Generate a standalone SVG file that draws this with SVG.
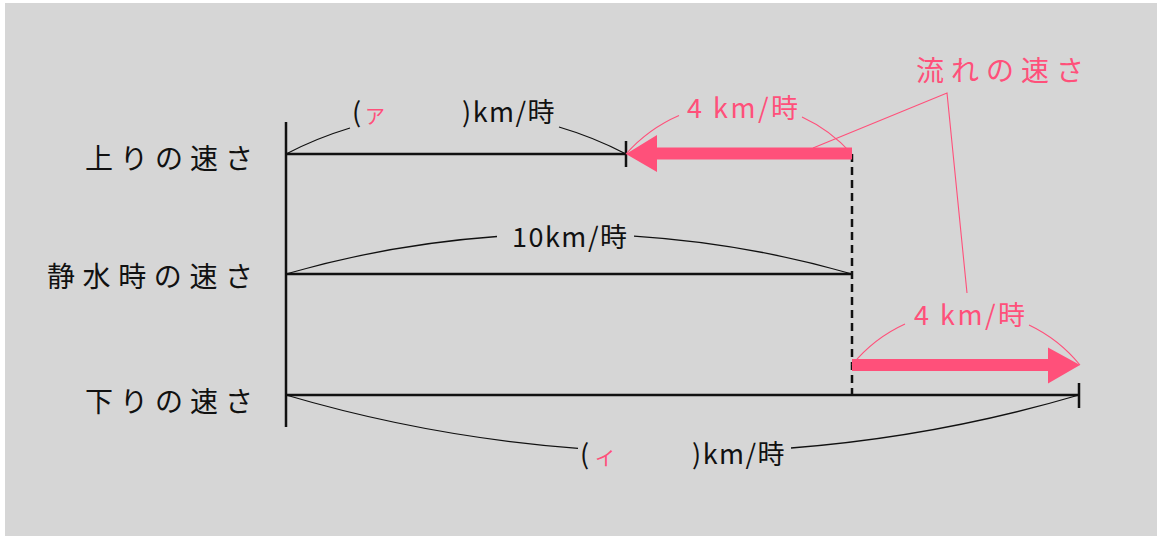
<svg xmlns="http://www.w3.org/2000/svg" width="1157" height="536" viewBox="0 0 1157 536">
  <style>
    .jp { font-family: "Noto Sans CJK JP", "Noto Sans", sans-serif; }
    .lbl { font-size: 28px; fill: #111; letter-spacing: 7px; }
    .val { font-size: 27px; fill: #111; letter-spacing: 1.5px; }
    .red { fill: #ff507a; }
    .ans { font-size: 20px; fill: #ff507a; }
    .axis { stroke: #111; stroke-width: 2.5; fill: none; }
    .arc { stroke: #111; stroke-width: 1.3; fill: none; }
    .rarc { stroke: #ff507a; stroke-width: 1.1; fill: none; }
    .dash { stroke: #111; stroke-width: 2.5; stroke-dasharray: 8 5; fill: none; }
  </style>
  <rect x="5" y="3" width="1152" height="533" fill="#d6d6d6"/>

  <g id="row-labels" class="jp">
    <text class="lbl" x="85" y="169">上りの速さ</text>
    <text class="lbl" x="47" y="287" style="letter-spacing:7.6px">静水時の速さ</text>
    <text class="lbl" x="85" y="412">下りの速さ</text>
  </g>

  <g id="connectors">
    <line class="axis" x1="286" y1="122" x2="286" y2="427"/>
    <line class="axis" x1="286" y1="154" x2="626" y2="154"/>
    <line class="axis" x1="626" y1="141" x2="626" y2="167"/>
    <line class="axis" x1="286" y1="274" x2="852" y2="274"/>
    <line class="axis" x1="286" y1="395" x2="1079" y2="395"/>
    <line class="axis" x1="1079" y1="383" x2="1079" y2="408"/>
    <line class="dash" x1="852" y1="154" x2="852" y2="395"/>

    <path class="arc" d="M286,154 A368.3,368.3 0 0 1 350,128"/>
    <path class="arc" d="M559,127 A368.3,368.3 0 0 1 626,154"/>
    <path class="arc" d="M286,274 A1021,1021 0 0 1 497,236.5"/>
    <path class="arc" d="M634,236.1 A1021,1021 0 0 1 852,274"/>
    <path class="arc" d="M286,395 A1403.8,1403.8 0 0 0 578,448.3"/>
    <path class="arc" d="M791,448 A1403.8,1403.8 0 0 0 1079,395"/>

    <path class="rarc" d="M626,154 A150.9,150.9 0 0 1 679,115.5"/>
    <path class="rarc" d="M802,116.9 A150.9,150.9 0 0 1 852,154"/>
    <path class="rarc" d="M852,365 A146.9,146.9 0 0 1 905,324"/>
    <path class="rarc" d="M1029,324.9 A146.9,146.9 0 0 1 1080,365"/>

    <polyline class="rarc" points="813,148 947,93 967,293"/>

    <polygon id="arrow-up" class="red" points="626,154 657,135 657,147.5 852,147.5 852,159.5 657,159.5 657,172"/>
    <polygon id="arrow-down" class="red" points="1080,365 1048,347.5 1048,359 852,359 852,371 1048,371 1048,383.5"/>
  </g>

  <g id="label-up" class="jp">
    <text class="val" x="352" y="122">(</text>
    <text class="ans" x="365" y="124">ア</text>
    <text class="val" x="462" y="122">)km/時</text>
  </g>
  <g id="label-still" class="jp">
    <text class="val" x="512" y="247">10km/時</text>
  </g>
  <g id="label-down" class="jp">
    <text class="val" x="580" y="464">(</text>
    <text class="ans" x="595" y="466">イ</text>
    <text class="val" x="692" y="464">)km/時</text>
  </g>
  <g id="label-current-up" class="jp">
    <text class="val red" x="687" y="118" style="letter-spacing:2.5px">4 km/時</text>
  </g>
  <g id="label-current-down" class="jp">
    <text class="val red" x="914" y="325" style="letter-spacing:2.5px">4 km/時</text>
  </g>
  <g id="label-current" class="jp">
    <text class="red" x="916" y="81" style="font-size:28px;letter-spacing:7px">流れの速さ</text>
  </g>
</svg>
